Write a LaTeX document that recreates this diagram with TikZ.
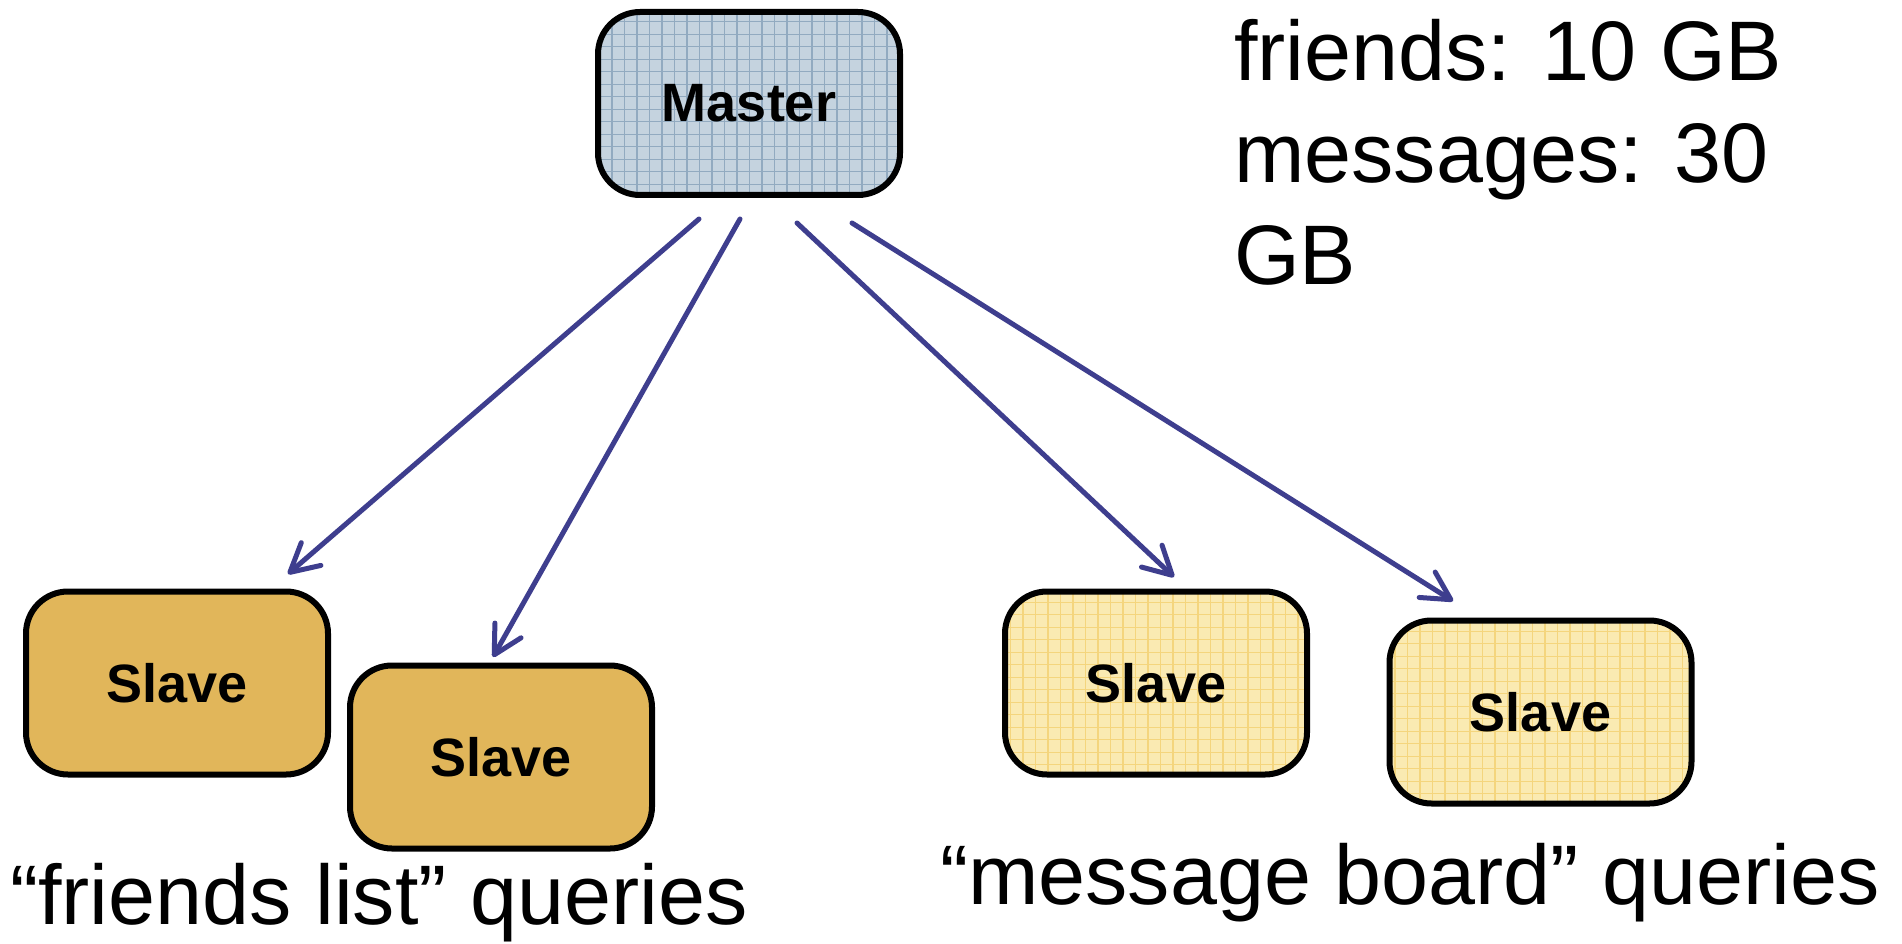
\documentclass[tikz,border=0pt]{standalone}
\usepackage{fontspec}
\usetikzlibrary{arrows.meta}
\newfontfamily\arialf{Liberation Sans}
\definecolor{masterfill}{RGB}{197,211,223}
\definecolor{mastergrid}{RGB}{146,170,192}
\definecolor{goldfill}{RGB}{225,182,90}
\definecolor{yelfill}{RGB}{250,234,178}
\definecolor{yelgrid}{RGB}{244,213,125}
\definecolor{arrowcol}{RGB}{62,62,142}
\tikzset{
  box/.style={draw=black, line width=6pt, rounded corners=42pt,
    minimum width=302pt, minimum height=183pt, inner sep=0pt,
    font=\arialf\fontsize{54}{60}\selectfont\bfseries},
  gridfill/.style={path picture={\draw[#1, line width=1.2pt]
    ([shift={(-20pt,-20pt)}]path picture bounding box.south west) grid[step=12.5pt]
    ([shift={(20pt,20pt)}]path picture bounding box.north east);}},
  masterbox/.style={box, fill=masterfill, gridfill=mastergrid},
  goldbox/.style={box, fill=goldfill},
  yelbox/.style={box, fill=yelfill, gridfill=yelgrid},
  conn/.style={draw=arrowcol, line width=5pt, line cap=round, line join=round,
    -{Straight Barb[length=28pt, width=30pt, line width=5pt, round]}},
  bigtext/.style={inner sep=0pt, font=\arialf\fontsize{84.5}{102}\selectfont}
}
\begin{document}
\begin{tikzpicture}[x=1pt, y=-1pt]
\useasboundingbox (0,0) rectangle (1902,944);
\fill[white] (0,0) rectangle (1902,944);

\node[masterbox] (m) at (749,103.5) {Master};
\node[goldbox] (s1) at (177,683) {Slave};
\node[goldbox] (s2) at (501,757) {Slave};
\node[yelbox] (s3) at (1156,683) {Slave};
\node[yelbox] (s4) at (1540.5,712) {Slave};

\coordinate (a1s) at (699,219);
\coordinate (a2s) at (740,219);
\coordinate (a3s) at (797,223);
\coordinate (a4s) at (852,223);
\coordinate (a1e) at (288,574);
\coordinate (a2e) at (493,657);
\coordinate (a3e) at (1174,577);
\coordinate (a4e) at (1453,601);

\draw[conn] (a1s) -- (a1e);
\draw[conn] (a2s) -- (a2e);
\draw[conn] (a3s) -- (a3e);
\draw[conn] (a4s) -- (a4e);

\node[bigtext, anchor=base west] (sizes) at (1234,81)
  {\parbox[t]{660pt}{\raggedright friends: 10 GB\\messages: 30\\GB}};
\node[bigtext, anchor=base west] (fl) at (10,924) {“friends list” queries};
\node[bigtext, anchor=base west] (mb) at (940,904) {“message board” queries};
\end{tikzpicture}
\end{document}
